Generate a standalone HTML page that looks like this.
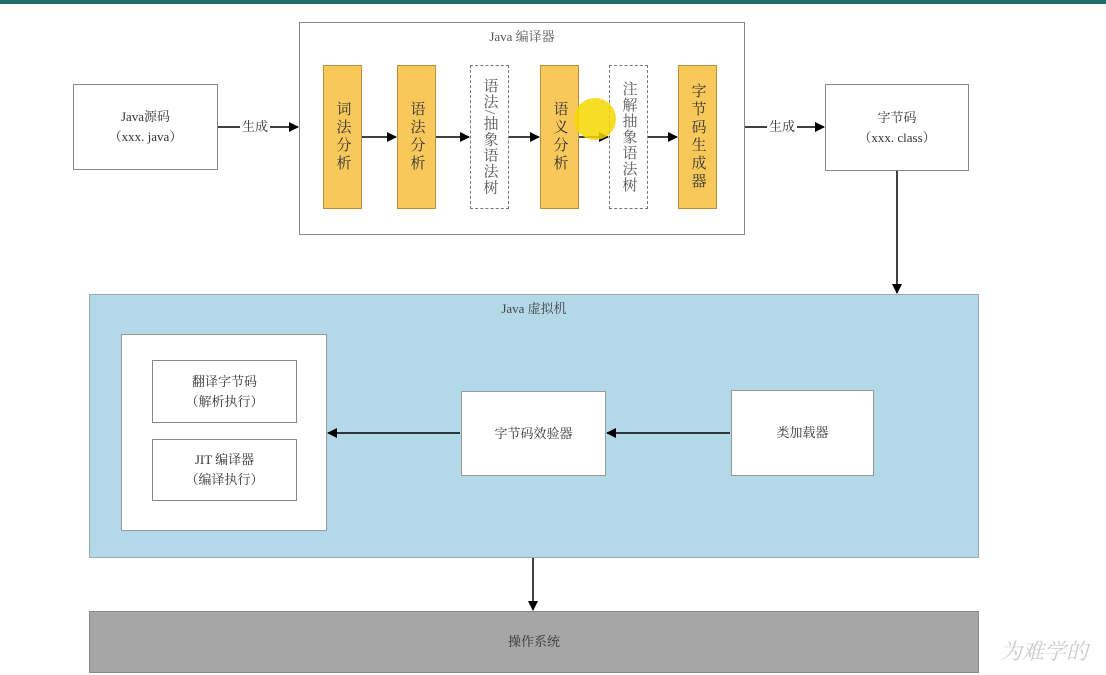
<!DOCTYPE html>
<html><head><meta charset="utf-8"><style>
body{margin:0;width:1106px;height:675px;background:#fff;position:relative;overflow:hidden;font-family:"Liberation Serif","Noto Serif CJK SC",serif;color:#333}
.a{position:absolute;box-sizing:border-box}
.c{display:flex;align-items:center;justify-content:center;text-align:center;font-size:13px;line-height:20px}
.v{writing-mode:vertical-rl;font-size:15px;letter-spacing:3px;line-height:20px}
.o{background:#f9c85a;border:1px solid #b89040}
.d{background:#fff;border:1px dashed #777;color:#555}
</style></head><body>
<div class="a" style="left:0;top:0;width:1106px;height:4px;background:#1f6e6a"></div>
<div class="a c" style="left:73px;top:84px;width:145px;height:86px;border:1px solid #888">Java源码<br>（xxx. java）</div>
<div class="a" style="left:299px;top:22px;width:446px;height:213px;border:1.5px solid #888"></div>
<div class="a" style="left:299px;top:26px;width:446px;text-align:center;font-size:13px;color:#555">Java 编译器</div>
<div class="a c o v" style="left:323px;top:65px;width:39px;height:144px">词法分析</div>
<div class="a c o v" style="left:397px;top:65px;width:39px;height:144px">语法分析</div>
<div class="a c d v" style="left:470px;top:65px;width:39px;height:144px;letter-spacing:1px">语法/抽象语法树</div>
<div class="a c o v" style="left:540px;top:65px;width:39px;height:144px">语义分析</div>
<div class="a c d v" style="left:609px;top:65px;width:39px;height:144px;letter-spacing:1px">注解抽象语法树</div>
<div class="a c o v" style="left:678px;top:65px;width:39px;height:144px">字节码生成器</div>
<div class="a c" style="left:825px;top:84px;width:144px;height:87px;border:1px solid #888">字节码<br>（xxx. class）</div>
<div class="a" style="left:89px;top:294px;width:890px;height:264px;background:#b3d8e8;border:1px solid #9ab"></div>
<div class="a" style="left:89px;top:298px;width:890px;text-align:center;font-size:13px;color:#444">Java 虚拟机</div>
<div class="a" style="left:121px;top:334px;width:206px;height:197px;background:#fff;border:1px solid #999"></div>
<div class="a c" style="left:152px;top:360px;width:145px;height:63px;border:1px solid #888;background:#fff">翻译字节码<br>（解析执行）</div>
<div class="a c" style="left:152px;top:439px;width:145px;height:62px;border:1px solid #888;background:#fff">JIT 编译器<br>（编译执行）</div>
<div class="a c" style="left:461px;top:391px;width:145px;height:85px;background:#fff;border:1px solid #999">字节码效验器</div>
<div class="a c" style="left:731px;top:390px;width:143px;height:86px;background:#fff;border:1px solid #999">类加载器</div>
<div class="a c" style="left:89px;top:611px;width:890px;height:62px;background:#a6a6a6;border:1px solid #888">操作系统</div>
<div class="a" style="left:1000px;top:635px;font-size:22px;color:#ccc;font-style:italic">为难学的</div>
<svg class="a" style="left:0;top:0" width="1106" height="675">
<defs><marker id="m" markerWidth="10" markerHeight="10" refX="9" refY="5" orient="auto" markerUnits="userSpaceOnUse"><path d="M0,0 L10,5 L0,10 z" fill="#000"/></marker></defs>
<g stroke="#000" stroke-width="1.5" fill="none" marker-end="url(#m)">
<line x1="218" y1="127" x2="298" y2="127"/>
<line x1="362" y1="137" x2="396" y2="137"/>
<line x1="436" y1="137" x2="469" y2="137"/>
<line x1="509" y1="137" x2="539" y2="137"/>
<line x1="579" y1="137" x2="608" y2="137"/>
<line x1="648" y1="137" x2="677" y2="137"/>
<line x1="745" y1="127" x2="824" y2="127"/>
<line x1="897" y1="171" x2="897" y2="293"/>
<line x1="730" y1="433" x2="607" y2="433"/>
<line x1="460" y1="433" x2="328" y2="433"/>
<line x1="533" y1="558" x2="533" y2="610"/>
</g>
<rect x="240" y="118" width="30" height="16" fill="#fff"/>
<text x="255" y="131" font-size="13" text-anchor="middle" fill="#333" font-family="Liberation Serif,Noto Serif CJK SC,serif">生成</text>
<rect x="767" y="118" width="30" height="16" fill="#fff"/>
<text x="782" y="131" font-size="13" text-anchor="middle" fill="#333" font-family="Liberation Serif,Noto Serif CJK SC,serif">生成</text>
<circle cx="595" cy="119" r="21" fill="#f5d800" opacity="0.85"/>
</svg>
</body></html>
